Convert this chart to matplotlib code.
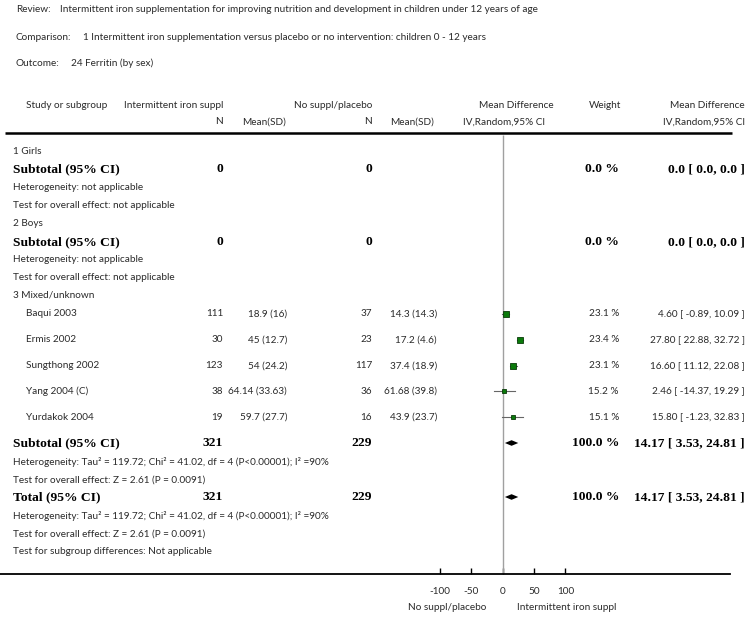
import matplotlib
matplotlib.use("Agg")
import matplotlib.pyplot as plt

# ---- data ----
review = "Intermittent iron supplementation for improving nutrition and development in children under 12 years of age"
comparison = "1 Intermittent iron supplementation versus placebo or no intervention: children 0 - 12 years"
outcome = "24 Ferritin (by sex)"

exp_label = "Intermittent iron suppl"
ctrl_label = "No suppl/placebo"

studies = ["Baqui 2003", "Ermis 2002", "Sungthong 2002", "Yang 2004 (C)", "Yurdakok 2004"]
exp_n = [111, 30, 123, 38, 19]
exp_mean_sd = ["18.9 (16)", "45 (12.7)", "54 (24.2)", "64.14 (33.63)", "59.7 (27.7)"]
ctrl_n = [37, 23, 117, 36, 16]
ctrl_mean_sd = ["14.3 (14.3)", "17.2 (4.6)", "37.4 (18.9)", "61.68 (39.8)", "43.9 (23.7)"]
weights = [23.1, 23.4, 23.1, 15.2, 15.1]
md = [4.60, 27.80, 16.60, 2.46, 15.80]
md_lo = [-0.89, 22.88, 11.12, -14.37, -1.23]
md_hi = [10.09, 32.72, 22.08, 19.29, 32.83]

pooled = [14.17, 3.53, 24.81]
exp_total = 321
ctrl_total = 229
het_text = "Heterogeneity: Tau\u00b2 = 119.72; Chi\u00b2 = 41.02, df = 4 (P<0.00001); I\u00b2 =90%"
overall_text = "Test for overall effect: Z = 2.61 (P = 0.0091)"
subgroup_text = "Test for subgroup differences: Not applicable"

xticks = [-100, -50, 0, 50, 100]

# ---- layout (pixels) ----
W, H = 750, 618
zero_px, px_per_unit = 502.7, 0.627
SANS = "Lato"
SERIF = "Liberation Serif"
fs = 7.2
fsb = 9.7
col = "#2a2a2a"

fig = plt.figure(figsize=(W / 100, H / 100), dpi=100)
ax = fig.add_axes([0, 0, 1, 1])
ax.set_xlim(0, W)
ax.set_ylim(H, 0)
ax.axis("off")


def t(x, y, s, ha="left", bold=False):
    if bold:
        ax.text(x, y, s, ha=ha, va="center", fontsize=fsb, fontweight="bold",
                family=SERIF, color="black")
    else:
        ax.text(x, y, s, ha=ha, va="center", fontsize=fs, family=SANS, color=col)


# top block
t(16, 9, "Review:")
t(60, 9, review)
t(16, 37, "Comparison:")
t(83, 37, comparison)
t(16, 63, "Outcome:")
t(71, 63, outcome)

# header
t(26, 105, "Study or subgroup")
t(223, 105, exp_label, ha="right")
t(372, 105, ctrl_label, ha="right")
t(554, 105, "Mean Difference", ha="right")
t(605, 105, "Weight", ha="center")
t(745, 105, "Mean Difference", ha="right")
t(223, 122, "N", ha="right")
t(242, 122, "Mean(SD)")
t(372, 122, "N", ha="right")
t(390, 122, "Mean(SD)")
t(545, 122, "IV,Random,95% CI", ha="right")
t(745, 122, "IV,Random,95% CI", ha="right")
ax.plot([5, 732], [133, 133], color="black", lw=1.8, solid_capstyle="butt")

# empty subgroups
for y0, name in [(151, "1 Girls"), (224, "2 Boys")]:
    t(13, y0, name)
    t(13, y0 + 18, "Subtotal (95% CI)", bold=True)
    t(223, y0 + 18, "0", ha="right", bold=True)
    t(372, y0 + 18, "0", ha="right", bold=True)
    t(619, y0 + 18, "0.0 %", ha="right", bold=True)
    t(745, y0 + 18, "0.0 [ 0.0, 0.0 ]", ha="right", bold=True)
    t(13, y0 + 36, "Heterogeneity: not applicable")
    t(13, y0 + 54, "Test for overall effect: not applicable")

t(13, 295, "3 Mixed/unknown")
study_y = [314, 340, 366, 391, 417]
for i, y in enumerate(study_y):
    t(26, y, studies[i])
    t(223, y, str(exp_n[i]), ha="right")
    t(287, y, exp_mean_sd[i], ha="right")
    t(372, y, str(ctrl_n[i]), ha="right")
    t(437, y, ctrl_mean_sd[i], ha="right")
    t(619, y, "%.1f %%" % weights[i], ha="right")
    t(745, y, "%.2f [ %.2f, %.2f ]" % (md[i], md_lo[i], md_hi[i]), ha="right")

pooled_str = "%.2f [ %.2f, %.2f ]" % tuple(pooled)
summary_y = [443, 497]
for y, lab in zip(summary_y, ["Subtotal (95% CI)", "Total (95% CI)"]):
    t(13, y, lab, bold=True)
    t(223, y, str(exp_total), ha="right", bold=True)
    t(372, y, str(ctrl_total), ha="right", bold=True)
    t(619, y, "100.0 %", ha="right", bold=True)
    t(745, y, pooled_str, ha="right", bold=True)
    t(13, y + 19, het_text)
    t(13, y + 37, overall_text)
t(13, 552, subgroup_text)

# ---- forest panel, in mean-difference units ----
fa = fig.add_axes([0, 0, 1, 1], facecolor="none")
x0 = (0 - zero_px) / px_per_unit
x1 = (W - zero_px) / px_per_unit
fa.set_xlim(x0, x1)
fa.set_ylim(H, 0)
for s in ["top", "left", "right"]:
    fa.spines[s].set_visible(False)
fa.spines["bottom"].set_position(("data", 574))
fa.spines["bottom"].set_bounds(x0, (730 - zero_px) / px_per_unit)
fa.spines["bottom"].set_linewidth(1.3)
fa.set_yticks([])
fa.set_xticks(xticks)
fa.set_xticklabels([str(v) for v in xticks], family=SANS, fontsize=fs, color=col)
fa.tick_params(axis="x", direction="in", length=4, width=1, pad=9)

fa.vlines(0, 135, 574, color="#a0a0a0", lw=1)

for i, y in enumerate(study_y):
    fa.plot([md_lo[i], md_hi[i]], [y, y], color="#666666", lw=0.8)
    fa.plot(md[i], y, marker="s", ms=2.5 + weights[i] * 0.06,
            mfc="#0b7a0b", mec="#0a3a0a", mew=0.6, ls="none")

for y in summary_y:
    fa.fill([pooled[1], pooled[0], pooled[2], pooled[0]],
            [y, y - 2.8, y, y + 2.8], color="black", lw=0)

fa.text(-26, 608, ctrl_label, ha="right", va="center", fontsize=fs, family=SANS, color=col)
fa.text(23, 608, exp_label, ha="left", va="center", fontsize=fs, family=SANS, color=col)

fig.savefig("out.png", dpi=100)
